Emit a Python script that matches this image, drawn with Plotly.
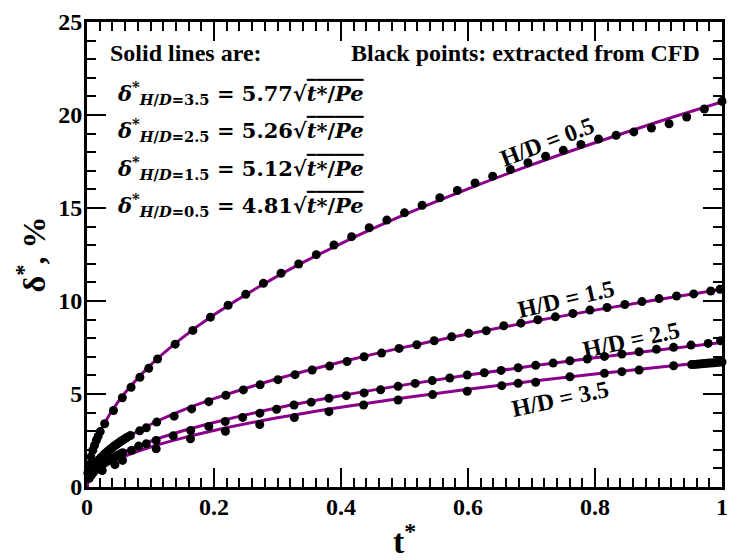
import plotly.graph_objects as go

# ---------------- data ----------------
x_tick_vals = [0, 0.2, 0.4, 0.6, 0.8, 1.0]
x_tick_text = ["0", "0.2", "0.4", "0.6", "0.8", "1"]
y_tick_vals = [0, 5, 10, 15, 20, 25]
y_tick_text = ["0", "5", "10", "15", "20", "25"]

# fitted solid lines
t_fit = [0, 0.0025, 0.01, 0.025, 0.05, 0.1, 0.15, 0.2, 0.3, 0.4, 0.5, 0.6, 0.7, 0.8, 0.9, 1.0]
fit_05 = [0, 1.04, 2.07, 3.27, 4.63, 6.55, 8.02, 9.26, 11.34, 13.09, 14.64, 16.03, 17.32, 18.51, 19.64, 20.70]
fit_15 = [0, 0.53, 1.06, 1.68, 2.38, 3.36, 4.12, 4.75, 5.82, 6.72, 7.52, 8.23, 8.89, 9.51, 10.08, 10.63]
fit_25 = [0, 0.39, 0.78, 1.23, 1.74, 2.46, 3.01, 3.47, 4.26, 4.91, 5.49, 6.02, 6.50, 6.95, 7.37, 7.77]
fit_35 = [0, 0.34, 0.68, 1.07, 1.52, 2.15, 2.63, 3.04, 3.72, 4.29, 4.80, 5.26, 5.68, 6.07, 6.44, 6.79]

# CFD points
t_cfd_05 = [0.0014, 0.0035, 0.0062, 0.0090, 0.0118, 0.0146, 0.0174, 0.0208, 0.0278, 0.0417,
            0.0556, 0.0694, 0.0833, 0.0972, 0.1111, 0.1389, 0.1667, 0.1944, 0.2222, 0.25,
            0.2778, 0.3056, 0.3333, 0.3611, 0.3889, 0.4167, 0.4444, 0.4722, 0.5, 0.5278,
            0.5556, 0.5833, 0.6111, 0.6389, 0.6667, 0.6944, 0.7222, 0.75, 0.7778, 0.8056,
            0.8333, 0.8611, 0.8889, 0.9167, 0.9444, 0.9722, 1.0]
cfd_05 = [0.75, 1.20, 1.62, 1.97, 2.24, 2.50, 2.72, 2.98, 3.40, 4.11,
          4.80, 5.36, 5.90, 6.38, 6.88, 7.68, 8.42, 9.13, 9.77, 10.36,
          10.95, 11.49, 11.99, 12.49, 13.01, 13.46, 13.94, 14.35, 14.74, 15.15,
          15.55, 15.94, 16.35, 16.71, 17.07, 17.43, 17.78, 18.10, 18.42, 18.71,
          18.91, 19.09, 19.30, 19.53, 19.89, 20.32, 20.73]

t_cfd_15 = [0.0021, 0.0049, 0.0077, 0.0105, 0.0133, 0.0161, 0.0189, 0.0217, 0.0245, 0.0273,
            0.0301, 0.0329, 0.0357, 0.0385, 0.0413, 0.0441, 0.0469, 0.0497, 0.0525, 0.0553,
            0.0580, 0.0608, 0.0636, 0.0684, 0.0829, 0.0933, 0.1098, 0.1373, 0.1648, 0.1918,
            0.2187, 0.2462, 0.2726, 0.3006, 0.3276, 0.3546, 0.3820, 0.4095, 0.4364, 0.4639,
            0.4914, 0.5194, 0.5468, 0.5743, 0.6012, 0.6288, 0.6563, 0.6832, 0.7101, 0.7376,
            0.7652, 0.7921, 0.8190, 0.8470, 0.8740, 0.9009, 0.9285, 0.9554, 0.9823, 0.9969]
cfd_15 = [0.49, 0.74, 0.93, 1.09, 1.23, 1.35, 1.46, 1.57, 1.66, 1.76,
          1.84, 1.93, 2.01, 2.08, 2.16, 2.23, 2.30, 2.37, 2.43, 2.50,
          2.56, 2.62, 2.68, 2.77, 3.02, 3.18, 3.49, 3.81, 4.20, 4.59,
          4.93, 5.22, 5.50, 5.77, 6.04, 6.29, 6.50, 6.75, 7.00, 7.20,
          7.45, 7.65, 7.86, 8.08, 8.26, 8.40, 8.67, 8.81, 8.99, 9.15,
          9.33, 9.51, 9.65, 9.81, 9.97, 10.13, 10.27, 10.38, 10.54, 10.63]

t_cfd_25 = [0.0035, 0.0070, 0.0105, 0.0140, 0.0175, 0.0210, 0.0245, 0.0280, 0.0315, 0.0350,
            0.0385, 0.0420, 0.0455, 0.0490, 0.0525, 0.0560, 0.0700, 0.0813, 0.0933, 0.1089,
            0.1358, 0.1633, 0.1918, 0.2177, 0.2451, 0.2722, 0.2986, 0.3260, 0.3530, 0.3810,
            0.4084, 0.4364, 0.4624, 0.4899, 0.5168, 0.5437, 0.5712, 0.5988, 0.6257, 0.6521,
            0.6790, 0.7066, 0.7341, 0.7605, 0.7879, 0.8149, 0.8423, 0.8694, 0.8968, 0.9238,
            0.9512, 0.9782, 0.9978]
cfd_25 = [0.46, 0.65, 0.80, 0.92, 1.03, 1.13, 1.22, 1.30, 1.38, 1.45,
          1.52, 1.59, 1.66, 1.72, 1.78, 1.84, 1.96, 2.20, 2.32, 2.50,
          2.75, 3.04, 3.25, 3.52, 3.74, 3.97, 4.18, 4.41, 4.56, 4.77,
          4.91, 5.06, 5.23, 5.41, 5.57, 5.72, 5.86, 6.02, 6.14, 6.27,
          6.41, 6.54, 6.66, 6.79, 6.88, 7.02, 7.15, 7.27, 7.40, 7.51,
          7.63, 7.72, 7.86]

t_cfd_35 = [0.0062, 0.0240, 0.0440, 0.0560, 0.1090, 0.1630, 0.2180, 0.2720, 0.3266, 0.3810,
            0.4355, 0.4899, 0.5443, 0.5988, 0.6532, 0.6790, 0.7066, 0.7605, 0.8149, 0.8423,
            0.8694, 0.9238, 0.9520, 0.9560, 0.9600, 0.9640, 0.9680, 0.9720, 0.9760, 0.9800,
            0.9840, 0.9880, 0.9920, 0.9960, 1.0]
cfd_35 = [0.62, 0.89, 1.20, 1.43, 2.05, 2.59, 3.00, 3.36, 3.73, 4.05,
          4.41, 4.68, 4.97, 5.15, 5.45, 5.58, 5.63, 5.93, 6.11, 6.20,
          6.29, 6.52, 6.58, 6.59, 6.60, 6.61, 6.62, 6.64, 6.65, 6.66,
          6.67, 6.68, 6.70, 6.71, 6.72]

case_labels = ["H/D = 0.5", "H/D = 1.5", "H/D = 2.5", "H/D = 3.5"]
coef_labels = ["3.5", "2.5", "1.5", "0.5"]
coef_values = ["5.77", "5.26", "5.12", "4.81"]

# ---------------- figure ----------------
LINE = "#8B008B"
FONT = "Liberation Serif, Times New Roman, serif"

fig = go.Figure()
for y in [fit_05, fit_15, fit_25, fit_35]:
    fig.add_trace(go.Scatter(x=t_fit, y=y, mode="lines", line=dict(color=LINE, width=3, shape="spline"),
                             showlegend=False, hoverinfo="skip"))
for t, y in [(t_cfd_05, cfd_05), (t_cfd_15, cfd_15), (t_cfd_25, cfd_25), (t_cfd_35, cfd_35)]:
    fig.add_trace(go.Scatter(x=t, y=y, mode="markers", marker=dict(color="black", size=9),
                             showlegend=False, cliponaxis=False))

axis_common = dict(
    showline=True, linewidth=3, linecolor="black", mirror="ticks",
    ticks="inside", ticklen=19, tickwidth=2, tickcolor="black",
    showgrid=False, zeroline=False, ticklabeloverflow="allow",
    tickfont=dict(family=FONT, size=24, color="black"),
)
fig.update_xaxes(range=[0, 1], tickmode="array", tickvals=x_tick_vals,
                 ticktext=["<b>" + s + "</b>" for s in x_tick_text],
                 minor=dict(dtick=0.02, tick0=0, ticks="inside", ticklen=9, tickwidth=2, tickcolor="black"),
                 ticklabelstandoff=-4,
                 title=dict(text="<b>t<sup>*</sup></b>", font=dict(family=FONT, size=34, color="black"), standoff=14),
                 **axis_common)
fig.update_yaxes(range=[0, 25], tickmode="array", tickvals=y_tick_vals,
                 ticktext=["<b>" + s + "</b>" for s in y_tick_text],
                 minor=dict(dtick=1, tick0=0, ticks="inside", ticklen=9, tickwidth=2, tickcolor="black"),
                 ticklabelstandoff=-3,
                 title=dict(text="<b>δ<sup>*</sup>, %</b>", font=dict(family=FONT, size=32, color="black"), standoff=4),
                 **axis_common)

ann = []
ann.append(dict(text="<b>Solid lines are:</b>", x=0.0328, y=0.9335, xanchor="left", yanchor="middle"))
ann.append(dict(text="<b>Black points: extracted from CFD</b>", x=0.9688, y=0.9335, xanchor="right", yanchor="middle"))
eq_y = [0.8476, 0.7682, 0.6867, 0.6073]
for yy, hd, c in zip(eq_y, coef_labels, coef_values):
    txt = ("<b><i>δ</i><sup>*</sup><sub><i>H</i>/<i>D</i>=" + hd + "</sub> = " + c +
           "√<span style='text-decoration:overline'><i>t</i>*/<i>Pe</i></span></b>")
    ann.append(dict(text=txt, x=0.0437, y=yy, xanchor="left", yanchor="middle",
                    font=dict(family="DejaVu Serif", size=21, color="black")))
lab_pos = [(0.7239, 0.7425, -21), (0.7551, 0.4034, -13), (0.8565, 0.3155, -12), (0.7441, 0.1888, -12)]
for (xx, yy, ang), lab in zip(lab_pos, case_labels):
    ann.append(dict(text="<b>" + lab + "</b>", x=xx, y=yy, textangle=ang, xanchor="center", yanchor="middle"))
for a in ann:
    a.setdefault("font", dict(family=FONT, size=24, color="black"))
    a.update(xref="paper", yref="paper", showarrow=False)

fig.update_layout(
    width=730, height=560,
    margin=dict(l=87, r=2, t=22, b=72),
    paper_bgcolor="white", plot_bgcolor="white",
    annotations=ann,
)
fig.write_html("out.html")
